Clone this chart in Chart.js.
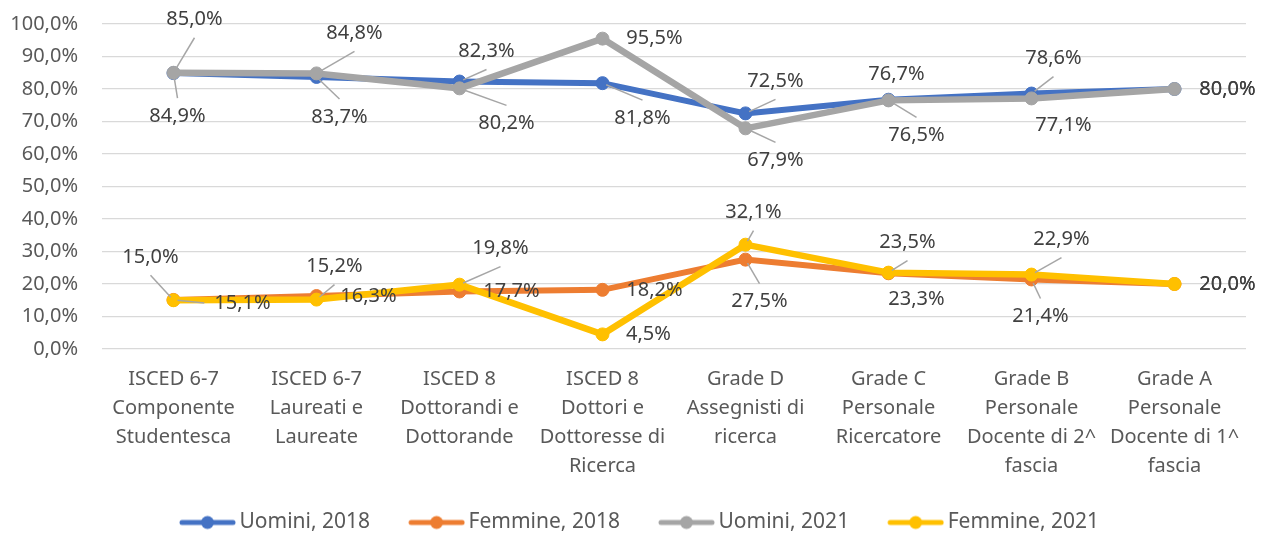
<!DOCTYPE html>
<html>
<head>
<meta charset="utf-8">
<script src="https://cdn.jsdelivr.net/npm/chart.js@4"></script>
<style>
  html, body { margin: 0; padding: 0; background: #ffffff; }
  canvas { display: block; }
</style>
</head>
<body>
<canvas id="chart" width="1269" height="536"></canvas>
<script>
// Categories (multi-line axis labels)
const categories = [
  ['ISCED 6-7', 'Componente', 'Studentesca'],
  ['ISCED 6-7', 'Laureati e', 'Laureate'],
  ['ISCED 8', 'Dottorandi e', 'Dottorande'],
  ['ISCED 8', 'Dottori e', 'Dottoresse di', 'Ricerca'],
  ['Grade D', 'Assegnisti di', 'ricerca'],
  ['Grade C', 'Personale', 'Ricercatore'],
  ['Grade B', 'Personale', 'Docente di 2^', 'fascia'],
  ['Grade A', 'Personale', 'Docente di 1^', 'fascia']
];

// Series values (percent)
const uomini2018  = [84.9, 83.7, 82.3, 81.8, 72.5, 76.7, 78.6, 80.0];
const femmine2018 = [15.1, 16.3, 17.7, 18.2, 27.5, 23.3, 21.4, 20.0];
const uomini2021  = [85.0, 84.8, 80.2, 95.5, 67.9, 76.5, 77.1, 80.0];
const femmine2021 = [15.0, 15.2, 19.8, 4.5, 32.1, 23.5, 22.9, 20.0];

// Series names
const seriesNames = ['Uomini, 2018', 'Femmine, 2018', 'Uomini, 2021', 'Femmine, 2021'];

// Y axis tick values
const yTickValues = [0, 10, 20, 30, 40, 50, 60, 70, 80, 90, 100];

// Placement of each value label relative to its point (px: dx, dy of label centre)
const labelPlacement = [
  [[4, 43], [23, 40], [27, -30], [40, 35], [30, -32], [8, -25], [22, -35], [53, 0]],
  [[69, 3], [52, 0], [52, 0], [52, 0], [14, 42], [28, 26], [9, 37], [53, 0]],
  [[21, -53], [38, -40], [47, 35], [52, 0], [30, 32], [28, 35], [32, 27], [53, 0]],
  [[-23, -43], [18, -33], [41, -36], [46, 0], [8, -32], [19, -30], [30, -35], [53, 0]]
];

const FONT = "'Noto Sans', 'DejaVu Sans', sans-serif";
const fmt = v => v.toFixed(1).replace('.', ',') + '%';

const colors = ['#4472C4', '#ED7D31', '#A5A5A5', '#FFC000'];
const widths = [6, 6, 6.5, 6.5];

Chart.defaults.font.family = FONT;
Chart.defaults.font.size = 20;
Chart.defaults.color = '#595959';

// Legend swatch: line with a round marker in the middle
function legendSwatch(color) {
  const c = document.createElement('canvas');
  c.width = 96; c.height = 20;
  const g = c.getContext('2d');
  g.strokeStyle = color;
  g.lineWidth = 5;
  g.lineCap = 'round';
  g.beginPath(); g.moveTo(42, 10); g.lineTo(93, 10); g.stroke();
  g.fillStyle = color;
  g.beginPath(); g.arc(67.5, 10, 6.5, 0, Math.PI * 2); g.fill();
  return c;
}

// Value labels with leader lines
const valueLabels = {
  id: 'valueLabels',
  afterDatasetsDraw(chart) {
    const ctx = chart.ctx;
    ctx.save();
    ctx.font = '20px ' + FONT;
    ctx.textAlign = 'center';
    ctx.textBaseline = 'middle';
    chart.data.datasets.forEach((ds, di) => {
      const meta = chart.getDatasetMeta(di);
      meta.data.forEach((pt, i) => {
        const [dx, dy] = labelPlacement[di][i];
        const text = fmt(ds.data[i]);
        const cx = pt.x + dx, cy = pt.y + dy;
        const w = ctx.measureText(text).width;
        if (Math.abs(dy) >= 29 || Math.abs(dx) >= 60) {
          let ex, ey;
          if (Math.abs(dy) >= 29) {
            ex = cx; ey = cy - Math.sign(dy) * 18;
          } else {
            ex = cx - Math.sign(dx) * (w / 2 + 10); ey = cy;
          }
          const len = Math.hypot(ex - pt.x, ey - pt.y);
          const sx = pt.x + (ex - pt.x) / len * 4;
          const sy = pt.y + (ey - pt.y) / len * 4;
          ctx.strokeStyle = '#A6A6A6';
          ctx.lineWidth = 1.5;
          ctx.beginPath(); ctx.moveTo(sx, sy); ctx.lineTo(ex, ey); ctx.stroke();
        }
        ctx.fillStyle = '#404040';
        ctx.fillText(text, cx, cy);
      });
    });
    ctx.restore();
  }
};

const seriesData = [uomini2018, femmine2018, uomini2021, femmine2021];
const drawOrder = [4, 3, 2, 1];

new Chart(document.getElementById('chart'), {
  type: 'line',
  data: {
    labels: categories,
    datasets: seriesData.map((d, i) => ({
      label: seriesNames[i],
      data: d,
      borderColor: colors[i],
      backgroundColor: colors[i],
      borderWidth: widths[i],
      pointRadius: 6.5,
      pointBorderWidth: 1,
      pointBorderColor: colors[i],
      pointBackgroundColor: colors[i],
      tension: 0,
      fill: false,
      order: drawOrder[i]
    }))
  },
  options: {
    responsive: false,
    animation: false,
    layout: { padding: { top: 24, right: 23, bottom: -7, left: 0 } },
    scales: {
      x: {
        offset: true,
        grid: { display: false, drawTicks: false },
        border: { display: false },
        ticks: {
          autoSkip: false, maxRotation: 0, minRotation: 0,
          padding: 16, color: '#595959',
          font: { size: 20, lineHeight: 1.45 }
        },
        afterFit(s) { s.height = 157; }
      },
      y: {
        min: 0, max: 100,
        afterBuildTicks(s) { s.ticks = yTickValues.map(v => ({ value: v })); },
        grid: { color: '#D9D9D9', lineWidth: 1.3, drawTicks: false },
        border: { display: false },
        ticks: { padding: 24, color: '#595959', callback: v => fmt(v), font: { size: 20 } },
        afterFit(s) {
          s.width = 102;
          s.paddingTop = 0;
          s.paddingBottom = 0;
        }
      }
    },
    plugins: {
      tooltip: { enabled: false },
      legend: {
        position: 'bottom',
        labels: {
          usePointStyle: true,
          pointStyleWidth: 82,
          padding: 6,
          font: { size: 21 },
          color: '#595959',
          generateLabels(chart) {
            return chart.data.datasets.map((ds, i) => ({
              text: ds.label,
              pointStyle: legendSwatch(colors[i]),
              fillStyle: colors[i],
              strokeStyle: colors[i],
              lineWidth: 0,
              fontColor: '#595959',
              hidden: false,
              datasetIndex: i
            }));
          }
        }
      }
    }
  },
  plugins: [valueLabels]
});
</script>
</body>
</html>
